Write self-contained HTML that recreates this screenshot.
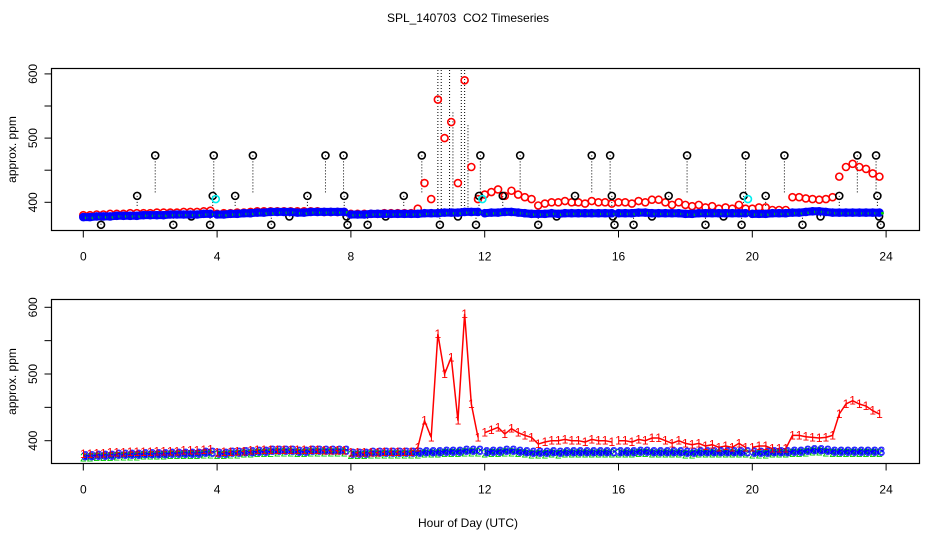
<!DOCTYPE html>
<html><head><meta charset="utf-8">
<style>
html,body{margin:0;padding:0;background:#fff;}
svg{display:block;font-family:"Liberation Sans",sans-serif;}
</style></head>
<body>
<svg id="chart" width="936" height="540" viewBox="0 0 936 540" xmlns="http://www.w3.org/2000/svg">
<text x="468" y="22" text-anchor="middle" font-size="12" xml:space="preserve">SPL_140703  CO2 Timeseries</text>
<text x="468" y="527" text-anchor="middle" font-size="12">Hour of Day (UTC)</text>
<g id="top"></g>
<g id="bot"></g>
</svg>
<script>
// ---- data ----
const hours = [];
for (let i = 0; i < 120; i++) hours.push(+(i * 0.2).toFixed(1));
const segBreaks = [4, 8, 12, 16, 20];
const redVals = [
380,380,381,381,382,382,382,383,383,383,383,384,384,384,384,385,385,385,386,387,
382,383,383,384,384,385,386,386,386,386,386,386,386,386,386,386,385,385,385,385,
382,382,382,382,382,383,383,383,383,383,390,430,405,560,500,525,430,590,455,405,
412,416,420,410,418,412,408,405,395,398,400,400,402,400,400,398,402,400,400,398,
400,400,398,402,400,404,404,400,396,400,396,394,396,392,394,390,392,390,396,390,
390,392,392,388,388,388,408,408,406,405,404,405,408,440,455,460,455,452,445,440];
const blueVals = [
377,377,378,378,378,379,379,379,379,380,380,380,380,381,381,381,381,381,382,382,
381,381,382,382,383,383,384,384,385,385,385,385,384,384,385,385,385,385,385,385,
381,381,381,382,382,382,382,382,382,382,382,383,383,383,384,384,384,385,385,385,
383,384,384,385,385,384,383,382,382,382,383,382,383,383,383,383,383,383,383,383,
383,383,383,384,384,383,383,383,383,383,382,382,383,383,383,383,383,383,383,383,
382,382,382,383,383,383,384,384,385,386,386,385,384,384,384,384,384,384,384,384];
const greenVals = [
376,376,377,377,377,378,378,378,378,379,379,379,379,380,380,380,380,380,381,381,
380,380,381,381,382,382,383,383,383,384,384,384,383,383,384,384,384,384,384,384,
380,380,380,381,381,381,381,381,381,381,381,382,382,382,383,383,383,384,384,384,
382,383,383,384,384,383,382,381,381,381,382,381,382,382,382,382,382,382,382,382,
382,382,382,383,383,382,382,382,382,382,381,381,382,382,382,382,382,382,382,382,
381,381,381,382,382,382,383,383,384,385,385,384,383,383,383,383,383,383,383,383];
const outHours = [0.53,1.61,2.15,2.69,3.23,3.79,3.87,3.9,4.54,5.07,5.62,6.16,6.7,7.24,7.78,7.8,7.87,7.9,8.5,9.04,9.58,10.12,10.66,11.2,11.74,11.83,11.87,
12.54,13.06,13.6,14.15,14.7,15.2,15.75,15.8,15.83,15.88,16.45,17,17.5,18.05,18.6,19.14,19.68,19.74,19.8,20.4,20.96,21.5,22.04,22.6,23.14,23.7,23.74,23.79,23.84];
const outVals = [365,410,473,365,378,365,410,473,410,473,365,378,410,473,473,410,378,365,365,378,410,473,365,378,365,410,473,
410,473,365,378,410,473,473,410,378,365,365,378,410,473,365,378,365,410,473,410,473,365,378,410,473,473,410,378,365];
const cyanHours = [3.96, 11.93, 19.87];
const cyanVals = [405, 405, 405];
const spikeHours = [10.6,10.7,10.95,11.05,11.3,11.4,11.5];
const spikeMax = [620,620,620,540,620,620,520];
const xTicks = [0,4,8,12,16,20,24];
const yTicks = [400,450,500,550,600];
const yLabels = ['400','','500','','600'];

// ---- scales ----
const xs = h => 83.3 + 33.45 * h;
const P = {
  top: {y0: 68.5, y1: 230.5, ys: v => 202.3 - (v - 400) * 0.642},
  bot: {y0: 299.5, y1: 463.5, ys: v => 440.7 - (v - 400) * 0.667}
};
const NS = 'http://www.w3.org/2000/svg';
function mk(tag, attrs, parent, txt) {
  const e = document.createElementNS(NS, tag);
  for (const k in attrs) e.setAttribute(k, attrs[k]);
  if (txt !== undefined) e.textContent = txt;
  parent.appendChild(e);
  return e;
}
function segOf(h) { let s = 0; for (const b of segBreaks) if (h >= b - 0.01) s++; return s; }

function axes(g, p, name) {
  const box = mk('rect', {x: 51.5, y: p.y0, width: 868, height: p.y1 - p.y0, fill: 'none', stroke: '#000', 'stroke-width': 1.2}, g);
  
  
  xTicks.forEach(t => {
    const l = mk('line', {x1: xs(t), x2: xs(t), y1: p.y1, y2: p.y1 + 7, stroke: '#000'}, g);
    
    
    const tx = mk('text', {x: xs(t), y: p.y1 + 30, 'text-anchor': 'middle', 'font-size': 12}, g, String(t));
    
    
  });
  yTicks.forEach((t, i) => {
    const y = p.ys(t);
    const l = mk('line', {x1: 44.5, x2: 51.5, y1: y, y2: y, stroke: '#000'}, g);
    
    
    if (yLabels[i]) {
      const tx = mk('text', {x: 0, y: 0, transform: `translate(37,${y}) rotate(-90)`, 'text-anchor': 'middle', 'font-size': 12}, g, yLabels[i]);
      
      
    }
  });
  const yt = mk('text', {x: 0, y: 0, transform: `translate(16,${(p.y0 + p.y1) / 2}) rotate(-90)`, 'text-anchor': 'middle', 'font-size': 12}, g, 'approx. ppm');
  
  
}

// ---- top panel ----
const gt = document.getElementById('top');
const pt = P.top;
const cp = mk('clipPath', {id: 'ct'}, gt);
mk('rect', {x: 51.5, y: pt.y0, width: 868, height: pt.y1 - pt.y0}, cp);
const gtc = mk('g', {'clip-path': 'url(#ct)'}, gt);
spikeHours.forEach((h, i) => {
  const l = mk('line', {x1: xs(h), x2: xs(h), y1: pt.ys(spikeMax[i]), y2: pt.ys(385), stroke: '#000', 'stroke-dasharray': '1,2'}, gtc);
  
  
});
outHours.forEach((h, i) => {
  const base = 383, v = outVals[i];
  const end = base + (v - base) * 0.35;
  const l = mk('line', {x1: xs(h), x2: xs(h), y1: pt.ys(v), y2: pt.ys(end), stroke: '#000', 'stroke-dasharray': '1,2'}, gtc);
  
  
});
hours.forEach((h, i) => {
  const c = mk('circle', {cx: xs(h), cy: pt.ys(redVals[i]), r: 3.5, fill: 'none', stroke: '#f00', 'stroke-width': 1.6}, gtc);
  
  
});
outHours.forEach((h, i) => {
  const c = mk('circle', {cx: xs(h), cy: pt.ys(outVals[i]), r: 3.5, fill: 'none', stroke: '#000', 'stroke-width': 1.6}, gtc);
  
  
});
for (let s = 0; s <= segBreaks.length; s++) {
  const idx = hours.map((h, i) => i).filter(i => segOf(hours[i]) === s);
  const d = idx.map((i, k) => (k ? 'L' : 'M') + xs(hours[i]) + ',' + pt.ys(blueVals[i])).join('');
  const pth = mk('path', {d: d, fill: 'none', stroke: '#00f', 'stroke-width': 8, 'stroke-linecap': 'round'}, gtc);
  
  
}
hours.forEach((h, i) => {
  const c = mk('circle', {cx: xs(h), cy: pt.ys(blueVals[i]), r: 3.5, fill: 'none', stroke: '#00f', 'stroke-width': 1.6}, gtc);
  
  
  const g2 = mk('circle', {cx: xs(h) + 3, cy: pt.ys(greenVals[i]), r: 1.5, fill: '#0c0'}, gtc);
  
  
});
cyanHours.forEach((h, i) => {
  const c = mk('circle', {cx: xs(h), cy: pt.ys(cyanVals[i]), r: 3.5, fill: 'none', stroke: '#0ee', 'stroke-width': 1.6}, gtc);
  
  
});
axes(gt, pt, 'top');

// ---- bottom panel ----
const gb = document.getElementById('bot');
const pb = P.bot;
for (let s = 0; s <= segBreaks.length; s++) {
  const idx = hours.map((h, i) => i).filter(i => segOf(hours[i]) === s);
  const mkLine = (vals, col, w, nm) => {
    const d = idx.map((i, k) => (k ? 'L' : 'M') + xs(hours[i]) + ',' + pb.ys(vals[i])).join('');
    const pth = mk('path', {d: d, fill: 'none', stroke: col, 'stroke-width': w}, gb);
    
    
  };
  mkLine(greenVals, '#0c0', 5, 'green-line');
  mkLine(blueVals, '#00f', 5, 'blue-line');
  mkLine(redVals, '#f00', 1.5, 'red-line');
}
hours.forEach((h, i) => {
  const t2 = mk('text', {x: xs(h), y: pb.ys(greenVals[i]) + 5, 'text-anchor': 'middle', 'font-size': 12, fill: '#0c0'}, gb, '2');
  
  
  const t3 = mk('text', {x: xs(h) + 2, y: pb.ys(blueVals[i]) + 4, 'text-anchor': 'middle', 'font-size': 12, fill: '#fff', stroke: '#00f', 'stroke-width': 0.8}, gb, '3');
  
  
  const t1 = mk('text', {x: xs(h), y: pb.ys(redVals[i]) + 4, 'text-anchor': 'middle', 'font-size': 12, fill: '#f00'}, gb, '1');
  
  
});
axes(gb, pb, 'bottom');
</script>
</body></html>
